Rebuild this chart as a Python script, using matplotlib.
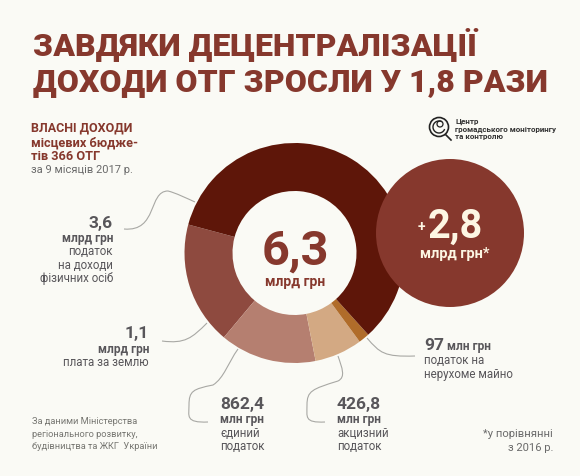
import matplotlib

matplotlib.use("Agg")

import matplotlib.pyplot as plt
from matplotlib.patches import Circle, PathPatch, Arc
from matplotlib.path import Path

WIDTH, HEIGHT = 580, 476
BG = "#fafaf5"
BROWN = "#86382d"
GREY = "#58565a"
CREAM = "#fdf6e3"
LINE = "#a8a8a4"

# counterclockwise from the upper left edge of the ring
slice_names = ["плата за землю", "єдиний податок", "акцизний податок", "податок на нерухоме майно", "податок на доходи фізичних осіб"]
slice_values = [1.1, 0.8624, 0.4268, 0.097, 3.6]
slice_colors = ["#8e4a3f", "#b57f70", "#d3a983", "#b06c2a", "#5e1609"]

title_lines = ["ЗАВДЯКИ ДЕЦЕНТРАЛІЗАЦІЇ", "ДОХОДИ ОТГ ЗРОСЛИ У 1,8 РАЗИ"]

plt.rcParams["font.family"] = ["Roboto", "DejaVu Sans"]

fig = plt.figure(figsize=(WIDTH / 100, HEIGHT / 100), dpi=100, facecolor=BG)

# overlay in pixel coordinates, y going down like the picture
ax = fig.add_axes([0, 0, 1, 1], zorder=1)
ax.set_xlim(0, WIDTH)
ax.set_ylim(HEIGHT, 0)
ax.axis("off")
ax.patch.set_alpha(0)

# ring
cx, cy, r = 294.5, 253, 110
pie_ax = fig.add_axes([(cx - r) / WIDTH, 1 - (cy + r) / HEIGHT, 2 * r / WIDTH, 2 * r / HEIGHT], zorder=2)
pie_ax.pie(
    slice_values,
    colors=slice_colors,
    startangle=165,
    counterclock=True,
    radius=1,
    wedgeprops={"width": 1 - 62 / 110, "linewidth": 0},
)
pie_ax.set_xlim(-1, 1)
pie_ax.set_ylim(-1, 1)

top = fig.add_axes([0, 0, 1, 1], zorder=3)
top.set_xlim(0, WIDTH)
top.set_ylim(HEIGHT, 0)
top.axis("off")
top.patch.set_alpha(0)
top.add_patch(Circle((450, 233), 74, color=BROWN, lw=0))


def label(x, y, s, size, weight="normal", color=GREY, ha="left", target=ax):
    target.text(x, y, s, fontsize=size, fontweight=weight, color=color, ha=ha, va="baseline")


def leader(points):
    codes = [Path.MOVETO] + [Path.CURVE4] * (len(points) - 1)
    ax.add_patch(PathPatch(Path(points, codes), fc="none", ec=LINE, lw=0.8))


# title
label(33, 55, title_lines[0], 23, "black", BROWN)
label(33, 91, title_lines[1], 23, "black", BROWN)

# intro block
label(31, 131, "ВЛАСНІ ДОХОДИ", 9, "bold", BROWN)
label(31, 146, "місцевих бюдже-", 9.2, "bold", BROWN)
label(31, 160, "тів 366 ОТГ", 9.2, "bold", BROWN)
label(31, 173, "за 9 місяців 2017 р.", 8, color="#6a6a6a")

# ring centre
label(295, 265, "6,3", 35, "bold", BROWN, ha="center", target=top)
label(295, 286, "млрд грн", 10, "bold", BROWN, ha="center", target=top)

# red circle
label(418, 231, "+", 10, "bold", CREAM, target=top)
label(455, 238, "2,8", 28.5, "bold", CREAM, ha="center", target=top)
label(454.5, 258, "млрд грн*", 10.5, "bold", CREAM, ha="center", target=top)

# left labels
label(113, 228, "3,6", 12.5, "bold", ha="right")
label(113, 242, "млрд грн", 8.6, "bold", ha="right")
label(113, 255, "податок", 8.3, ha="right")
label(113, 269, "на доходи", 8.3, ha="right")
label(113, 282, "фізичних осіб", 8.3, ha="right")

label(149, 338, "1,1", 12.5, "bold", ha="right")
label(149, 353, "млрд грн", 8.6, "bold", ha="right")
label(149, 366, "плата за землю", 8.3, ha="right")

# bottom labels
label(220, 409, "862,4", 12.5, "bold")
label(220, 423, "млн грн", 8.6, "bold")
label(220, 437, "єдиний", 8.3)
label(220, 450, "податок", 8.3)

label(337, 409, "426,8", 12.5, "bold")
label(337, 423, "млн грн", 8.6, "bold")
label(337, 437, "акцизний", 8.3)
label(337, 450, "податок", 8.3)

label(424, 350, "97", 12.5, "bold")
label(447, 350, "млн грн", 8.6, "bold")
label(424, 364, "податок на", 8.3)
label(424, 378, "нерухоме майно", 8.3)

# notes
label(32, 424, "За даними Міністерства", 6.7, color="#777772")
label(32, 437, "регіонального розвитку,", 6.7, color="#777772")
label(32, 449, "будівництва та ЖКГ  України", 6.7, color="#777772")
label(553, 437, "*у порівнянні", 8.1, color="#6a6a6a", ha="right")
label(553, 451, "з 2016 р.", 8.1, color="#6a6a6a", ha="right")

# leader lines
leader([(124, 229), (158, 232), (148, 191), (168, 191), (176, 193), (186, 198), (195, 202)])
leader([(162, 341), (185, 344), (192, 338), (207, 323)])
leader([(208, 422), (185, 423), (189, 416), (189, 405), (189, 391), (193, 389), (213, 385), (224, 378), (228, 363), (238, 349)])
leader([(325, 422), (304, 423), (307, 417), (307, 405), (307, 391), (312, 389), (338, 381), (346, 377), (342, 368), (338, 356)])
leader([(415, 356), (384, 357), (380, 353), (367, 338)])

# logo
logo_x, logo_y = 439, 127
ax.add_patch(Circle((logo_x, logo_y), 9.5, fc="none", ec="#222222", lw=1.2))
ax.add_patch(Arc((logo_x, logo_y), 12, 12, theta1=20, theta2=300, ec="#222222", lw=1.0))
ax.add_patch(Circle((logo_x + 1, logo_y - 3), 3, fc="none", ec="#222222", lw=0.9))
ax.plot([logo_x + 7, logo_x + 12], [logo_y + 8, logo_y + 13], color="#222222", lw=1.2)
label(455, 124, "Центр", 5.8, "bold", "#333333")
label(455, 131.5, "громадського моніторингу", 5.8, "bold", "#333333")
label(455, 139, "та контролю", 5.8, "bold", "#333333")

fig.savefig("out.png", dpi=100, facecolor=BG)
